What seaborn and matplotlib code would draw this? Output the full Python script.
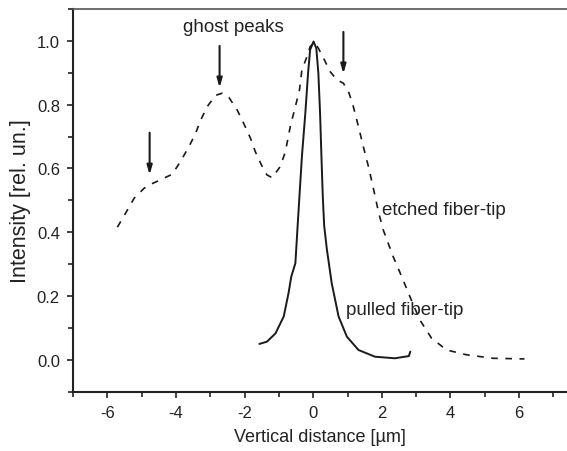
import numpy as np
import pandas as pd
import matplotlib
matplotlib.use("Agg")
import matplotlib.pyplot as plt
import seaborn as sns

# etched fiber-tip (dashed)
etched_x = [-5.71, -5.47, -5.22, -4.93, -4.77, -4.50, -4.11, -3.87, -3.62, -3.43, -3.28, -3.09,
            -2.85, -2.65, -2.46, -2.22, -2.03, -1.83, -1.69, -1.51, -1.35, -1.20, -0.96, -0.81,
            -0.67, -0.52, -0.40, -0.33, -0.18, -0.09, 0.03, 0.15, 0.35, 0.49, 0.69, 0.88, 1.03,
            1.17, 1.32, 1.46, 1.61, 1.75, 1.90, 2.04, 2.33, 2.58, 2.82, 3.11, 3.45, 3.89, 4.47,
            5.24, 6.16]
etched_y = [0.416, 0.460, 0.507, 0.538, 0.549, 0.562, 0.582, 0.622, 0.669, 0.710, 0.752, 0.794,
            0.829, 0.836, 0.823, 0.784, 0.742, 0.695, 0.653, 0.611, 0.580, 0.571, 0.606, 0.653,
            0.731, 0.794, 0.846, 0.909, 0.951, 0.982, 0.995, 0.977, 0.935, 0.904, 0.878, 0.867,
            0.841, 0.794, 0.731, 0.669, 0.606, 0.540, 0.465, 0.408, 0.324, 0.261, 0.198, 0.125,
            0.068, 0.031, 0.016, 0.005, 0.003]

# pulled fiber-tip (solid)
pulled_x = [-1.57, -1.35, -1.10, -0.86, -0.72, -0.64, -0.52, -0.45, -0.40, -0.33, -0.23, -0.15,
            -0.09, 0.01, 0.09, 0.15, 0.20, 0.24, 0.28, 0.32, 0.40, 0.54, 0.74, 0.98, 1.32, 1.80,
            2.38, 2.79, 2.83]
pulled_y = [0.050, 0.057, 0.083, 0.136, 0.209, 0.261, 0.303, 0.428, 0.515, 0.637, 0.773, 0.899,
            0.972, 0.998, 0.977, 0.899, 0.773, 0.637, 0.510, 0.420, 0.345, 0.240, 0.136, 0.073,
            0.031, 0.010, 0.005, 0.012, 0.026]

arrow_x = [-4.77, -2.73, 0.88]
arrow_top = [0.712, 0.984, 1.028]
arrow_tip = [0.580, 0.853, 0.897]

labels = ["ghost peaks", "etched fiber-tip", "pulled fiber-tip"]
label_x = [-2.32, 2.02, 0.95]
label_y = [1.044, 0.47, 0.157]

x_ticks = [-6, -4, -2, 0, 2, 4, 6]
y_ticks = [0.0, 0.2, 0.4, 0.6, 0.8, 1.0]

sns.set_theme(style="ticks")
plt.rcParams['font.family'] = ['Liberation Sans', 'DejaVu Sans']

fig = plt.figure(figsize=(5.67, 4.52), dpi=100)
ax = fig.add_axes([0.129, 0.131, 0.871, 0.847])

df_e = pd.DataFrame({"x": etched_x, "y": etched_y})
df_p = pd.DataFrame({"x": pulled_x, "y": pulled_y})
sns.lineplot(data=df_e, x="x", y="y", ax=ax, estimator=None, sort=False,
             color="#1a1a1a", lw=1.2, linestyle=(0, (4, 4.5)))
sns.lineplot(data=df_p, x="x", y="y", ax=ax, estimator=None, sort=False,
             color="#1a1a1a", lw=1.4)

for xa, yt, yb in zip(arrow_x, arrow_top, arrow_tip):
    ax.annotate("", xy=(xa, yb), xytext=(xa, yt),
                arrowprops=dict(arrowstyle="-|>,head_length=0.45,head_width=0.13",
                                color="#1a1a1a", lw=1.5, shrinkA=0, shrinkB=0))

for t, tx, ty in zip(labels, label_x, label_y):
    ha = "center" if t == "ghost peaks" else "left"
    ax.text(tx, ty, t, ha=ha, va="center", fontsize=13.5, color="#222222")

ax.set_xlim(-7, 7.4)
ax.set_ylim(-0.1, 1.1)
ax.set_xticks(x_ticks)
ax.set_xticklabels([str(v) for v in x_ticks])
ax.set_yticks(y_ticks)
ax.set_yticklabels([f"{v:.1f}" for v in y_ticks])
ax.set_xticks(np.arange(-7, 8, 2), minor=True)
ax.set_yticks(np.arange(-0.1, 1.15, 0.2), minor=True)
ax.tick_params(axis="both", which="major", direction="out", length=4.5, width=1.2,
               labelsize=12, colors="#222222", pad=5)
ax.tick_params(axis="both", which="minor", direction="out", length=3.5, width=1.2,
               colors="#222222")

ax.set_xlabel("Vertical distance [µm]", fontsize=13, color="#222222", labelpad=6)
ax.set_ylabel("Intensity [rel. un.]", fontsize=15.5, color="#222222", labelpad=4)

for s in ["left", "bottom"]:
    ax.spines[s].set_linewidth(1.5)
    ax.spines[s].set_color("#222222")
ax.spines["right"].set_visible(False)
ax.spines["top"].set_visible(True)
ax.spines["top"].set_color("#555555")
ax.spines["top"].set_linewidth(1.2)

fig.savefig("out.png", dpi=100)
